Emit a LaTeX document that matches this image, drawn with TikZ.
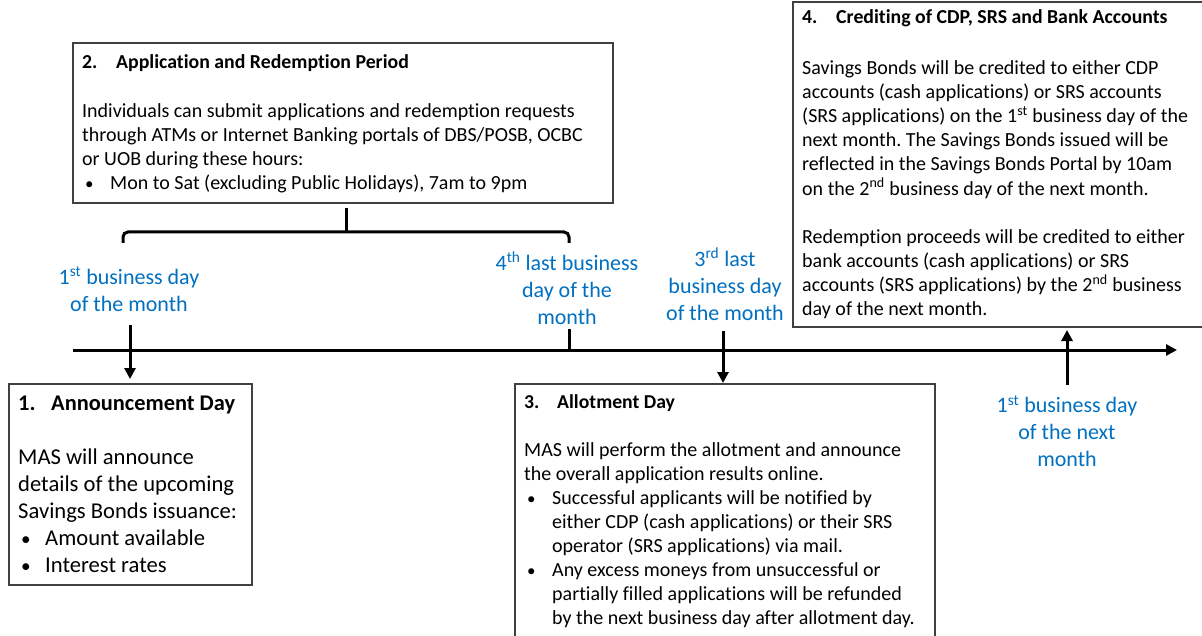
\documentclass[tikz,border=0pt]{standalone}
\usepackage{fontspec}
\setmainfont{Carlito}[Ligatures=CommonOff]
\usetikzlibrary{arrows.meta}
\definecolor{lblue}{HTML}{0070C0}
\definecolor{boxgray}{HTML}{404040}
\frenchspacing
\newcommand\bitem{\makebox[28pt][l]{\hspace{3pt}\scalebox{0.85}{•}}}
\newcommand\bind{\hspace*{28pt}}
\newcommand\txtlines[1]{\begin{tabular}[t]{@{}l@{}}#1\end{tabular}}
\tikzset{
  frame/.style={draw=boxgray, line width=1.3pt, anchor=north west, inner sep=0pt, outer sep=0pt},
  txt/.style={anchor=base west, inner sep=0pt, text=black},
  lbl/.style={align=center, inner sep=0pt, text=lblue, font=\fontsize{22}{27}\selectfont},
  thick line/.style={line width=3pt, black},
  arr/.style={line width=3pt, black, -{Triangle[length=11pt,width=11pt]}},
}
\begin{document}
\begin{tikzpicture}[x=1pt,y=-1pt]
\useasboundingbox (0,0) rectangle (1202,636);
\clip (0,0) rectangle (1202,636);
\fill[white] (0,0) rectangle (1202,636);

% ---- boxes ----
\node[frame, minimum width=540pt, minimum height=160pt] (b2) at (73,43) {};
\node[frame, minimum width=243pt, minimum height=201pt] (b1) at (9,384) {};
\node[frame, minimum width=420pt, minimum height=300pt] (b3) at (515,384) {};
\node[frame, minimum width=420pt, minimum height=325pt] (b4) at (793,2) {};

% ---- box 2 ----
\node[txt, font=\fontsize{19.8}{24}\selectfont\bfseries] (t2h) at (82,69) {\makebox[34pt][l]{2.}Application and Redemption Period};
\node[txt, font=\fontsize{20}{24}\selectfont] (t2) at (82,118) {\txtlines{Individuals can submit applications and redemption requests\\
through ATMs or Internet Banking portals of DBS/POSB, OCBC\\
or UOB during these hours:\\
\bitem Mon to Sat (excluding Public Holidays), 7am to 9pm}};

% ---- box 1 ----
\node[txt, font=\fontsize{22.4}{27}\selectfont\bfseries] (t1h) at (18,410) {\makebox[33pt][l]{1.}Announcement Day};
\node[txt, font=\fontsize{22.6}{27}\selectfont] (t1) at (18,464) {\txtlines{MAS will announce\\
details of the upcoming\\
Savings Bonds issuance:\\
\makebox[27pt][l]{\hspace{3pt}\scalebox{0.85}{•}}Amount available\\
\makebox[27pt][l]{\hspace{3pt}\scalebox{0.85}{•}}Interest rates}};

% ---- box 3 ----
\node[txt, font=\fontsize{19.7}{24}\selectfont\bfseries] (t3h) at (524,408) {\makebox[33pt][l]{3.}Allotment Day};
\node[txt, font=\fontsize{20}{24}\selectfont] (t3) at (524,456) {\txtlines{MAS will perform the allotment and announce\\
the overall application results online.\\
\bitem Successful applicants will be notified by\\
\bind either CDP (cash applications) or their SRS\\
\bind operator (SRS applications) via mail.\\
\bitem Any excess moneys from unsuccessful or\\
\bind partially filled applications will be refunded\\
\bind by the next business day after allotment day.}};

% ---- box 4 ----
\node[txt, font=\fontsize{19.8}{24}\selectfont\bfseries] (t4h) at (802,24) {\makebox[34pt][l]{4.}Crediting of CDP, SRS and Bank Accounts};
\node[txt, font=\fontsize{20}{24}\selectfont] (t4) at (802,75) {\txtlines{Savings Bonds will be credited to either CDP\\
accounts (cash applications) or SRS accounts\\
(SRS applications) on the 1\textsuperscript{st} business day of the\\
next month. The Savings Bonds issued will be\\
reflected in the Savings Bonds Portal by 10am\\
on the 2\textsuperscript{nd} business day of the next month.\\[24pt]
Redemption proceeds will be credited to either\\
bank accounts (cash applications) or SRS\\
accounts (SRS applications) by the 2\textsuperscript{nd} business\\
day of the next month.}};

% ---- blue labels ----
\node[lbl] (l1) at (129,289) {1\textsuperscript{st} business day\\of the month};
\node[lbl] (l2) at (567,288) {4\textsuperscript{th} last business\\day of the\\month};
\node[lbl] (l3) at (725,284) {3\textsuperscript{rd} last\\business day\\of the month};
\node[lbl] (l4) at (1067,431) {1\textsuperscript{st} business day\\of the next\\month};

% ---- timeline ----
\coordinate (tl0) at (73,350);
\coordinate (tl1) at (1177,350);
\draw[arr] (tl0) -- (tl1);

% tick for 4th last business day
\coordinate (tk) at (569,329);
\draw[thick line] (tk) -- (tk |- tl0);

% bracket
\coordinate (brL) at (123,243);
\coordinate (brR) at (569,243);
\coordinate (brS) at (346,208);
\draw[thick line, rounded corners=5pt] (brL) -- (123,232) -- (569,232) -- (brR);
\draw[thick line] (brS) -- (346,232);

% arrows
\coordinate (a1) at (130,325);
\draw[arr, shorten >=5pt] (a1) -- (a1 |- b1.north);
\coordinate (a3) at (723,331);
\draw[arr, shorten >=1pt] (a3) -- (a3 |- b3.north);
\coordinate (a4) at (1067,385);
\draw[arr, shorten >=3pt] (a4) -- (a4 |- b4.south);
\end{tikzpicture}
\end{document}
